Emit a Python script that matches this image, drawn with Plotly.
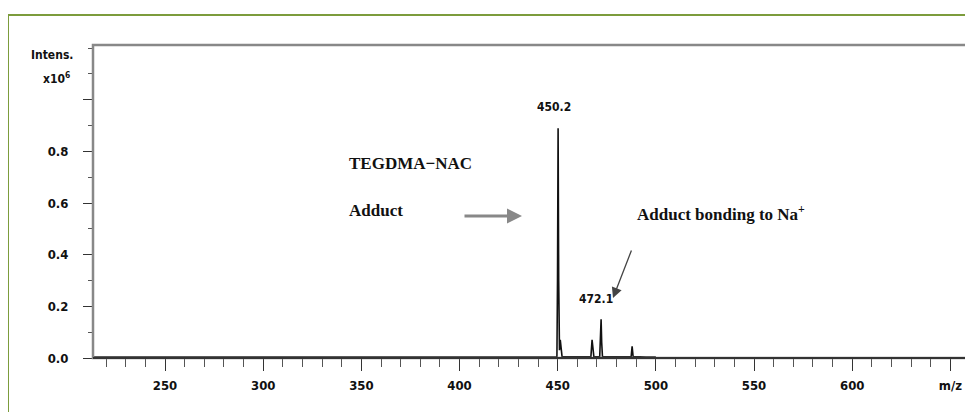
import plotly.graph_objects as go

# Spectrum data (m/z, intensity x10^6)
mz = [213.0, 300.0, 400.0, 449.6, 449.9, 450.2, 450.5, 450.9, 451.3, 451.7, 452.2, 460.0,
      466.9, 467.5, 467.9, 468.4, 471.4, 471.8, 472.1, 472.4, 472.8, 480.0,
      487.4, 487.9, 488.4, 495.0, 500.0]
intensity = [0.004, 0.004, 0.004, 0.004, 0.30, 0.89, 0.30, 0.03, 0.07, 0.03, 0.006, 0.005,
             0.005, 0.07, 0.03, 0.006, 0.005, 0.06, 0.15, 0.06, 0.006, 0.005,
             0.005, 0.045, 0.006, 0.004, 0.004]

x_tickvals = [250, 300, 350, 400, 450, 500, 550, 600, 650]
x_ticktext = ["250", "300", "350", "400", "450", "500", "550", "600", "m/z"]
y_tickvals = [0.0, 0.2, 0.4, 0.6, 0.8, 1.0]
y_ticktext = ["0.0", "0.2", "0.4", "0.6", "0.8", ""]

peak_labels = [(450.2, 0.89, "450.2"), (472.1, 0.15, "472.1")]

tickfont = dict(family="Liberation Sans Narrow, DejaVu Sans Condensed, Arial Narrow, sans-serif",
                size=13, color="#111", weight="bold")
serif = "Liberation Serif, Times New Roman, serif"

fig = go.Figure()
fig.add_trace(go.Scatter(x=mz, y=intensity, mode="lines",
                         line=dict(color="#111", width=1.6), hoverinfo="skip"))

annotations = []
for x, y, t in peak_labels:
    annotations.append(dict(x=x, y=y, xref="x", yref="y", text=t, showarrow=False,
                            yanchor="bottom", xanchor="center",
                            font=dict(family=tickfont["family"], size=12, color="#111", weight="bold")))
annotations[0].update(yshift=12, xshift=-4)
annotations[1].update(yshift=11, x=469.5)

# page offset: the HTML body adds an 8px margin
OFF = 8
L, R, T, B = 93, 970, 45, 358
W, H = R - L, B - T

annotations += [
    dict(x=347, y=163, xref="paper", yref="paper", text="TEGDMA\u2212NAC", showarrow=False,
         xanchor="left", yanchor="middle", font=dict(family=serif, size=17, color="#111", weight="bold")),
    dict(x=347, y=210, xref="paper", yref="paper", text="Adduct", showarrow=False,
         xanchor="left", yanchor="middle", font=dict(family=serif, size=17, color="#111", weight="bold")),
    dict(x=635, y=213, xref="paper", yref="paper", text="Adduct bonding to Na<sup>+</sup>", showarrow=False,
         xanchor="left", yanchor="middle", font=dict(family=serif, size=17, color="#111", weight="bold")),
    dict(x=52, y=55, xref="paper", yref="paper", text="Intens.", showarrow=False,
         xanchor="center", yanchor="middle", font=dict(family=tickfont["family"], size=12, color="#111", weight="bold")),
    dict(x=56, y=78, xref="paper", yref="paper", text="x10<sup>6</sup>", showarrow=False,
         xanchor="center", yanchor="middle", font=dict(family=tickfont["family"], size=12, color="#111", weight="bold")),
]

def px_to_paper(px, py):
    return (px - L) / W, (B - py) / H
for a in annotations:
    if a["xref"] == "paper":
        a["x"], a["y"] = px_to_paper(a["x"], a["y"])

def arrow(x0, y0, x1, y1, width, color, size):
    bx, by = px_to_paper(x1, y1)
    return dict(x=bx, y=by, ax=x0 - x1, ay=y0 - y1, xref="paper", yref="paper",
                axref="pixel", ayref="pixel",
                text="", showarrow=True, arrowhead=2, arrowsize=size, arrowwidth=width, arrowcolor=color)
annotations.append(arrow(463, 216, 522, 216, 3, "#888", 1.0))
annotations.append(arrow(632, 249, 613, 298, 1.3, "#444", 1.6))

gx0, gy1 = px_to_paper(OFF, 15)
gx1, gy0 = px_to_paper(990, 430)
shapes = [
    dict(type="rect", xref="paper", yref="paper", x0=gx0, x1=gx1, y0=gy0, y1=gy1,
         line=dict(color="#7c9c3c", width=2), layer="below"),
    dict(type="rect", xref="paper", yref="paper", x0=0, x1=1, y0=0, y1=1,
         line=dict(color="#888", width=2.5)),
    dict(type="line", xref="paper", yref="paper", x0=0, x1=1, y0=0, y1=0,
         line=dict(color="#333", width=2)),
]

fig.update_layout(
    width=973 - OFF, height=412 - OFF,
    margin=dict(l=L - OFF, r=973 - R, t=T - OFF, b=412 - B),
    paper_bgcolor="white", plot_bgcolor="white",
    showlegend=False,
    annotations=annotations, shapes=shapes,
    xaxis=dict(range=[213.3, 660], tickvals=x_tickvals, ticktext=x_ticktext,
               ticks="outside", ticklen=12, tickwidth=1.2, tickcolor="#333",
               minor=dict(dtick=10, tick0=0, ticks="outside", ticklen=8, tickwidth=1, tickcolor="#555"),
               showgrid=False, zeroline=False, showline=False, tickfont=tickfont,
               ticklabelstandoff=3),
    yaxis=dict(range=[0, 1.212], tickvals=y_tickvals, ticktext=y_ticktext,
               ticks="outside", ticklen=9, tickwidth=1.2, tickcolor="#333",
               minor=dict(dtick=0.1, tick0=0, ticks="outside", ticklen=4, tickwidth=1, tickcolor="#555"),
               showgrid=False, zeroline=False, showline=False, tickfont=tickfont,
               ticklabelstandoff=12),
)

fig.write_html("out.html")
